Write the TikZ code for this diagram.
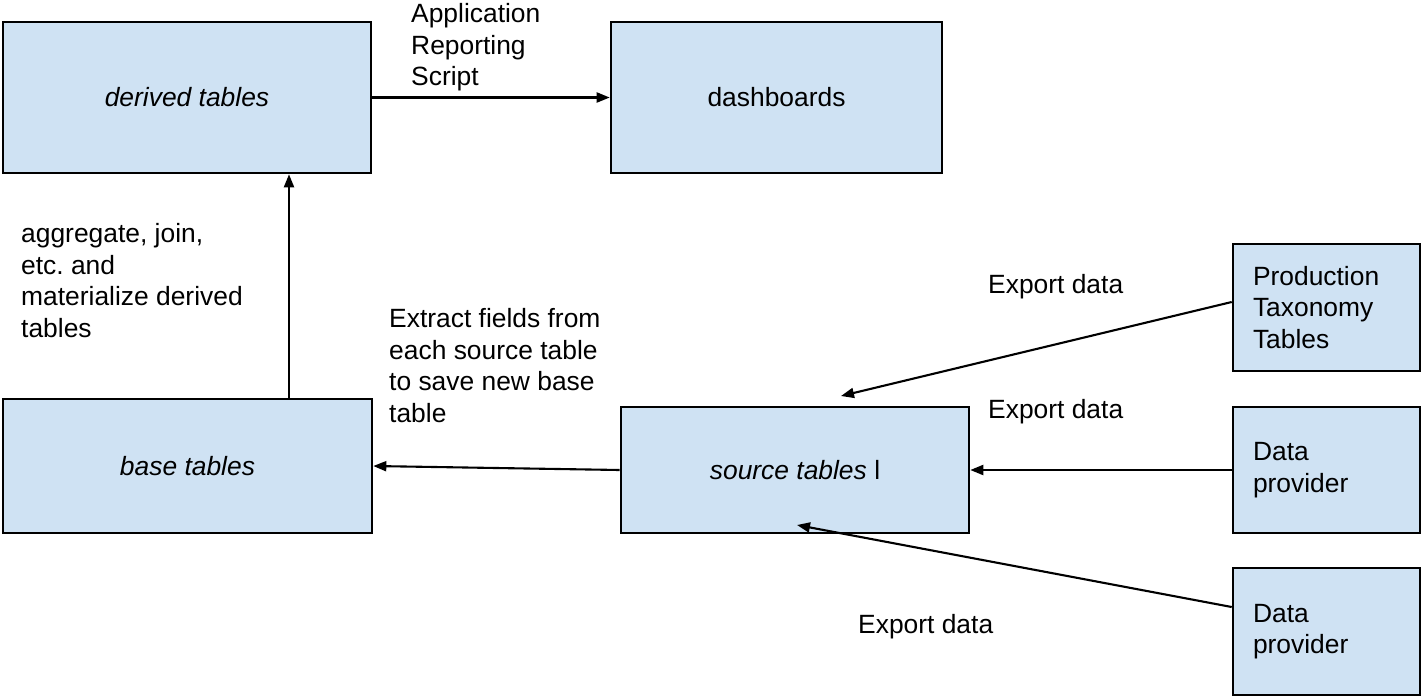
\documentclass[tikz,border=0pt]{standalone}
\usepackage{fontspec}
\setmainfont{Liberation Sans}
\usetikzlibrary{arrows.meta}
\definecolor{boxfill}{HTML}{CFE2F3}
\frenchspacing
\tikzset{
  tbl/.style={draw=black, fill=boxfill, line width=2.6pt, inner sep=0pt,
    font=\fontsize{26.4}{31.7}\selectfont},
  feed/.style={tbl, align=left, inner xsep=20pt, inner ysep=0pt},
  lbl/.style={inner sep=0pt, align=left, font=\fontsize{26.4}{31.7}\selectfont},
  arr/.style={line width=2.1pt, -{Triangle[length=13pt,width=10pt]}}
}
\begin{document}
\begin{tikzpicture}[x=1pt, y=-1pt]
  \useasboundingbox (0,0) rectangle (1422,697);

  % table boxes
  \node[tbl, minimum width=368pt, minimum height=151pt] (derived) at (187,97.5) {\itshape derived tables};
  \node[tbl, minimum width=331pt, minimum height=151pt] (dash) at (776.5,97.5) {dashboards};
  \node[tbl, minimum width=369pt, minimum height=134pt] (base) at (187.5,466) {\itshape base tables};
  \node[tbl, minimum width=348pt, minimum height=126pt] (source) at (795,470) {\textit{source tables} l};

  % upstream feeds
  \node[feed, text width=147pt, minimum height=127pt] (prod) at (1326.5,307.5) {Production\\Taxonomy\\Tables};
  \node[feed, text width=147pt, minimum height=126pt] (dpa) at (1326.5,470) {Data\\provider};
  \node[feed, text width=147pt, minimum height=127pt] (dpb) at (1326.5,631.5) {Data\\provider};

  % loose arrow ends
  \coordinate (prodend) at (841,396);
  \coordinate (dpbend) at (797,525);

  % connectors
  \draw[arr] (derived.east) -- (dash.west);
  \draw[arr] ([xshift=101.5pt]base.north) -- ([xshift=102pt]derived.south);
  \draw[arr] (source.west) -- (base.east);
  \draw[arr] ([yshift=5.5pt]prod.west) -- (prodend);
  \draw[arr] (dpa.west) -- (source.east);
  \draw[arr] ([yshift=24.5pt]dpb.west) -- (dpbend);

  % connector labels
  \node[lbl, anchor=north west] (applbl) at (411,3) {Application\\Reporting\\Script};
  \node[lbl, anchor=north west] (agglbl) at (21,223) {aggregate, join,\\etc. and\\materialize derived\\tables};
  \node[lbl, anchor=north west] (extlbl) at (389,308) {Extract fields from\\each source table\\to save new base\\table};
  \node[lbl, anchor=base west] (explbla) at (988,293) {Export data};
  \node[lbl, anchor=base west] (explblb) at (988,418) {Export data};
  \node[lbl, anchor=base west] (explblc) at (858,633) {Export data};
\end{tikzpicture}
\end{document}
